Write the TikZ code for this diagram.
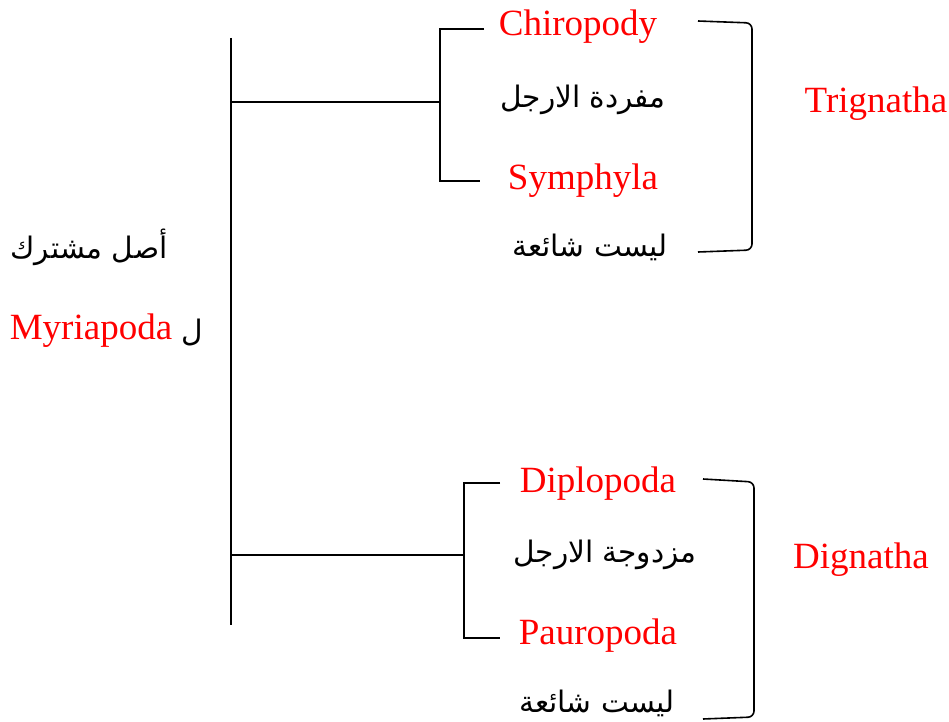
\documentclass[tikz,border=0pt]{standalone}
\usepackage{fontspec}
\setmainfont{Liberation Serif}
\newfontfamily\arabicfont[Script=Arabic]{DejaVu Sans}
\TeXXeTstate=1
\usetikzlibrary{positioning}

\begin{document}
\begin{tikzpicture}[
      x=0.5pt, y=-0.5pt,
      line width=0.8pt,
      taxon/.style={
        text=red,
        inner sep=0pt,
        font=\fontsize{18.5}{22}\selectfont
      },
      note/.style={
        inner sep=0pt,
        font=\fontsize{14.8}{20}\selectfont\arabicfont
      },
      group/.style={
        text=red,
        inner sep=0pt,
        font=\fontsize{18.5}{22}\selectfont
      },
      link/.style={draw=black},
      brace/.style={draw=black, rounded corners=3pt}
    ]
    \useasboundingbox (0,0) rectangle (949,722);

    % trunk
    \coordinate (trunkTop) at (231,38);
    \coordinate (trunkBot) at (231,625);
    \coordinate (upJoin) at (231,102);
    \coordinate (lowJoin) at (231,555);

    \node[note] (origin) at (89,247) {\beginR أصل مشترك\endR};
    \node[taxon] (myria) at (91,331) {Myriapoda};
    \node[note, right=4pt of myria.east, anchor=west, yshift=-1pt] (ofMyria) {\beginR ل\endR};

    % upper group
    \node[taxon] (chiro) at (578,27) {Chiropody};
    \node[note] (single) at (583,100) {\beginR مفردة الارجل\endR};
    \node[taxon] (symph) at (583,181) {Symphyla};
    \node[note] (rareA) at (590,247) {\beginR ليست شائعة\endR};
    \node[group] (trign) at (876,104) {Trignatha};

    % lower group
    \node[taxon] (diplo) at (598,484) {Diplopoda};
    \node[note] (double) at (605,555) {\beginR مزدوجة الارجل\endR};
    \node[taxon] (pauro) at (598,636) {Pauropoda};
    \node[note] (rareB) at (597,703) {\beginR ليست شائعة\endR};
    \node[group] (dign) at (861,560) {Dignatha};

    \coordinate (upSplit) at (440,102);
    \coordinate (lowSplit) at (464,555);

    \draw[link] (trunkTop) -- (trunkBot);
    \draw[link] (upJoin) -- (upSplit);
    \draw[link] (lowJoin) -- (lowSplit);

    \draw[link] (484,29) -- (440,29) -- (440,181) -- (480,181);
    \draw[link] (500,483) -- (464,483) -- (464,638) -- (500,638);

    \draw[brace] (698,21) -- (752,23) -- (752,250) -- (698,252);
    \draw[brace] (703,479) -- (754,482) -- (754,717) -- (703,719);
    \end{tikzpicture}
\end{document}
